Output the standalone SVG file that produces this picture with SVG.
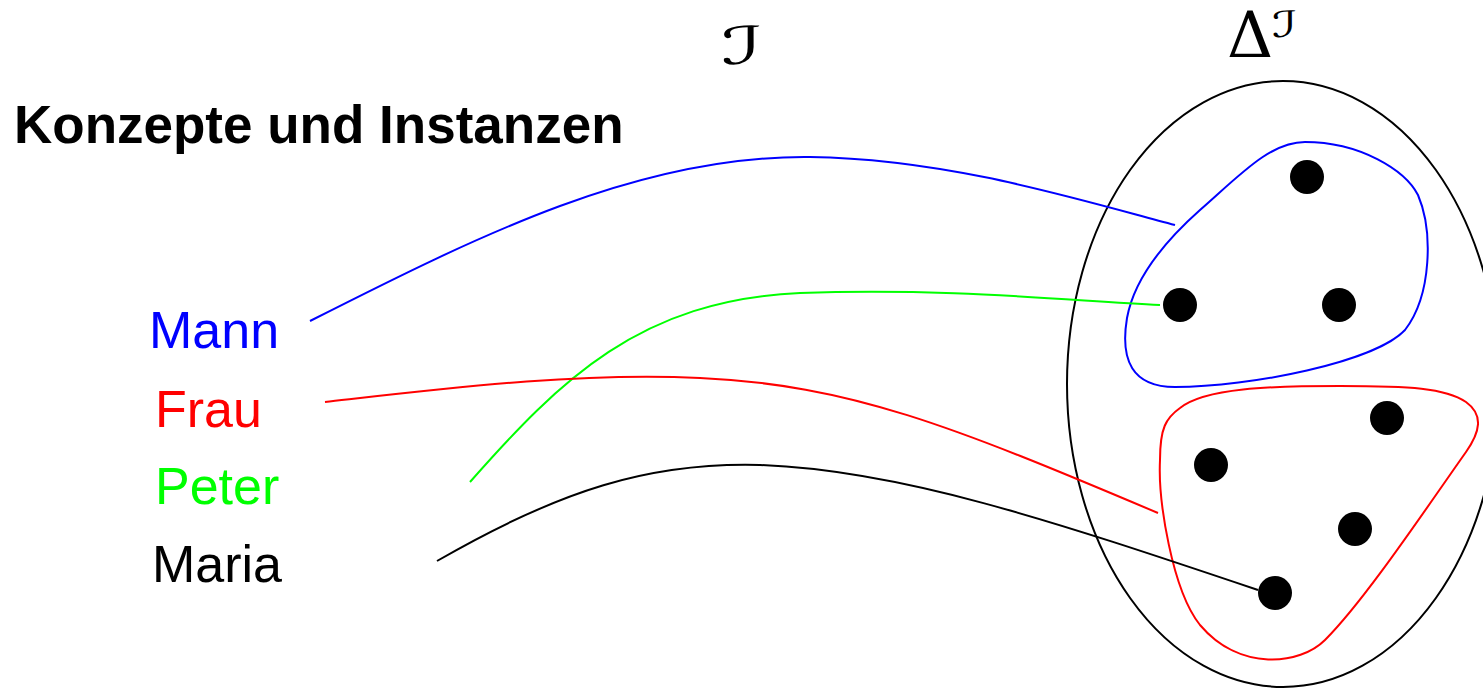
<svg xmlns="http://www.w3.org/2000/svg" width="1483" height="688" viewBox="0 0 1483 688">
<style>
.lbl{font-family:"Liberation Sans",Arial,sans-serif;font-size:52px}
.title{font-family:"Liberation Sans",Arial,sans-serif;font-size:53px;font-weight:bold}
.math{font-family:"DejaVu Serif","DejaVu Sans",serif;fill:#000}
.line{fill:none;stroke-width:2}
.dot{fill:#000}
</style>
<rect width="1483" height="688" fill="#fff"/>
<g id="title"><text class="title" x="14" y="143">Konzepte und Instanzen</text></g>
<g id="interp"><text class="math" font-size="52" text-anchor="middle" transform="translate(742,64) scale(1.7,1)">ℐ</text></g>
<g id="domain-label"><text class="math" x="1227" y="57" font-size="64" font-family="Liberation Serif">Δ</text><text class="math" font-size="36" transform="translate(1272,37) scale(1.5,1)">ℐ</text></g>
<g id="domain"><ellipse cx="1283" cy="384" rx="216" ry="303" fill="none" stroke="#000" stroke-width="2"/></g>
<g id="concept-mann"><path class="line" stroke="#0000ff" d="M1305,142 C1360,142 1405,170 1418,195 C1433,230 1432,295 1405,330 C1375,362 1250,387 1175,387 C1132,387 1120,360 1127,318 C1133,285 1155,250 1200,210 C1240,175 1270,142 1305,142 Z"/></g>
<g id="concept-frau"><path class="line" stroke="#ff0000" d="M1180,408 C1205,388 1270,386 1340,386 C1410,386 1445,388 1466,402 C1484,415 1480,432 1466,452 C1425,510 1365,600 1325,640 C1300,665 1240,672 1200,625 C1172,590 1158,500 1160,460 C1160,428 1166,418 1180,408 Z"/></g>
<g id="instances">
<circle class="dot" cx="1307" cy="177" r="17"/>
<circle class="dot" cx="1180" cy="305" r="17"/>
<circle class="dot" cx="1339" cy="305" r="17"/>
<circle class="dot" cx="1387" cy="418" r="17"/>
<circle class="dot" cx="1211" cy="465" r="17"/>
<circle class="dot" cx="1355" cy="529" r="17"/>
<circle class="dot" cx="1275" cy="593" r="17"/>
</g>
<g id="label-mann"><text class="lbl" x="149" y="348" fill="#0000ff">Mann</text></g>
<g id="label-frau"><text class="lbl" x="155" y="427" fill="#ff0000">Frau</text></g>
<g id="label-peter"><text class="lbl" x="155" y="504" fill="#00ff00">Peter</text></g>
<g id="label-maria"><text class="lbl" x="152" y="582" fill="#000" font-size="53">Maria</text></g>
<g id="connectors">
<path class="line" stroke="#0000ff" d="M310,321 C480,235 640,155 810,157 C950,159 1080,200 1175,225"/>
<path class="line" stroke="#00ff00" d="M470,482 C560,380 640,300 800,293 C950,288 1060,300 1160,305"/>
<path class="line" stroke="#ff0000" d="M325,402 C450,388 580,372 700,378 C850,385 950,425 1158,513"/>
<path class="line" stroke="#000" d="M437,561 C560,490 650,462 760,465 C900,470 1050,520 1258,590"/>
</g>
</svg>
